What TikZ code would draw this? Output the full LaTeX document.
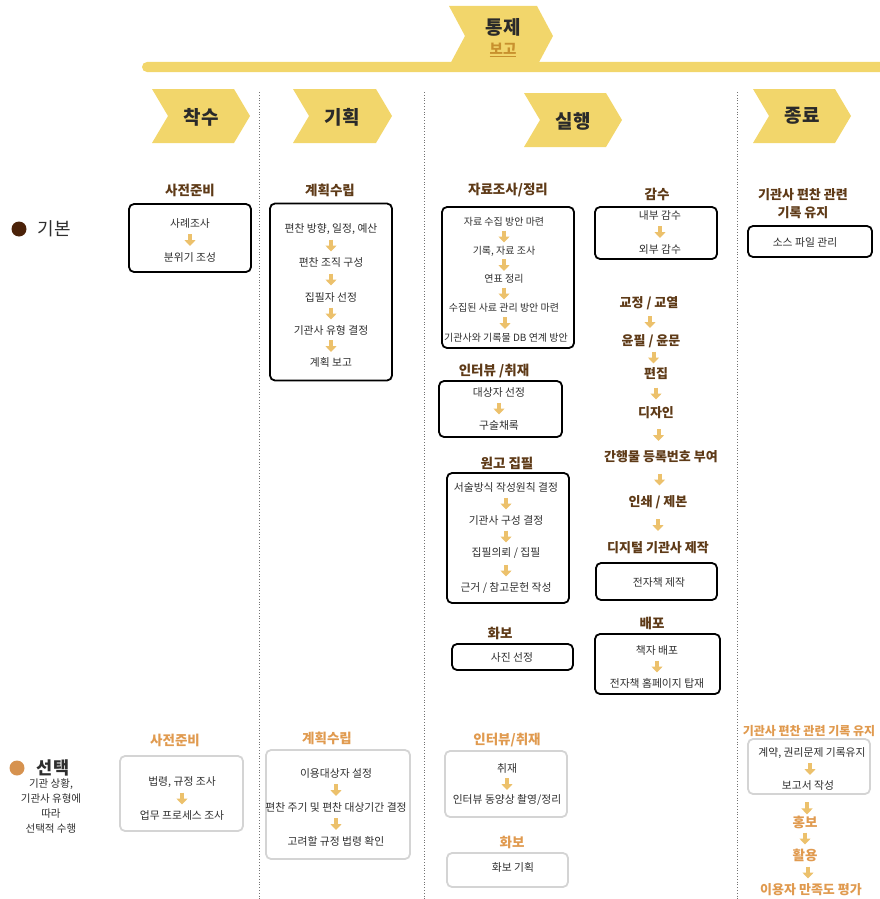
\documentclass[tikz,border=0pt]{standalone}
\usepackage{fontspec}
\setmainfont{Noto Sans CJK KR}
\usetikzlibrary{calc,arrows.meta}
\definecolor{chev}{HTML}{F2D66B}
\definecolor{brn}{HTML}{5E3A17}
\definecolor{org}{HTML}{E09A4F}
\definecolor{arr}{HTML}{ECC16C}
\definecolor{obord}{HTML}{D4D4D4}
\definecolor{txt}{HTML}{2E2E2E}
\definecolor{phtxt}{HTML}{2A2A2A}
\definecolor{bogo}{HTML}{C8912E}
\definecolor{basicc}{HTML}{4B2209}
\definecolor{optc}{HTML}{D6924F}
\newcommand\garr[2]{\draw[garr] ($(#1)!0.5!(#2)+(0,-6)$) -- ($(#1)!0.5!(#2)+(0,6)$);}
\newcommand\chev[5]{\fill[chev] (#1,#2) -- ({#3-#5},#2) -- (#3,{(#2+#4)/2}) -- ({#3-#5},#4) -- (#1,#4) -- ({#1+#5},{(#2+#4)/2}) -- cycle;}
\begin{document}
\begin{tikzpicture}[x=1pt,y=-1pt,
 item/.style={font=\fontsize{10.8}{13}\selectfont, text=txt, inner sep=1pt},
 smitem/.style={font=\fontsize{10}{12}\selectfont, text=txt, inner sep=1pt},
 ttl/.style={font=\fontsize{13.5}{16}\selectfont\bfseries, text=brn, inner sep=1pt},
 sttl/.style={font=\fontsize{13}{16}\selectfont\bfseries, text=brn, inner sep=1pt},
 ottl/.style={font=\fontsize{13.5}{16}\selectfont\bfseries, text=org, inner sep=1pt},
 phase/.style={font=\fontsize{19}{22}\selectfont\bfseries, text=phtxt, inner sep=0pt},
 bbox/.style={draw=black, line width=1.8pt, rounded corners=5pt, inner sep=0pt},
 obox/.style={draw=obord, line width=1.8pt, rounded corners=5pt, inner sep=0pt},
 garr/.style={draw=arr, line width=4pt, -{Triangle[width=11pt,length=6pt]}},
 sep/.style={draw=gray!90!black, line width=0.8pt, dotted}]
\useasboundingbox (0,0) rectangle (880,899);
% bar and control chevron
\fill[chev, rounded corners=5pt] (142,62) rectangle (895,72);
\chev{449}{6}{553}{66}{16}
\node[phase] (tongje) at (503,27) {통제};
\node[font=\fontsize{14.5}{16}\selectfont\bfseries, text=bogo, inner sep=0pt] (bogo) at (503,50) {\underline{보고}};
% phase chevrons
\chev{152}{89}{250}{143}{16}
\chev{293}{89}{392}{143}{16}
\chev{524}{93}{622}{147}{16}
\chev{753}{89}{851}{143}{16}
\node[phase] (p1) at (201,117) {착수};
\node[phase] (p2) at (342,117) {기획};
\node[phase] (p3) at (573,121) {실행};
\node[phase] (p4) at (802,116) {종료};
% separators
\draw[sep] (259,92) -- (259,899);
\draw[sep] (424,92) -- (424,899);
\draw[sep] (737,92) -- (737,899);
% legend
\node[circle, fill=basicc, minimum size=15pt, inner sep=0pt] (dotb) at (19,229) {};
\node[font=\fontsize{18}{20}\selectfont, text=txt, inner sep=0pt] (lb) at (54,229) {기본};
\node[circle, fill=optc, minimum size=15pt, inner sep=0pt] (doto) at (17,768) {};
\node[font=\fontsize{17.5}{19}\selectfont\bfseries, text=txt, inner sep=0pt] (lo) at (53,768) {선택};
\node[font=\fontsize{10.5}{15}\selectfont, text=txt, align=center, inner sep=0pt] (lnote) at (51,806) {기관 상황,\\기관사 유형에\\따라\\선택적 수행};
% ===== basic row =====
% col 1
\node[ttl] (t1) at (190,190) {사전준비};
\node[bbox, minimum width=122pt, minimum height=68pt] (b1) at (190,238) {};
\node[item] (b1a) at (190,223) {사례조사};
\node[item] (b1b) at (190,257) {분위기 조성};
\garr{b1a}{b1b}
% col 2
\node[ttl] (t2) at (330,190) {계획수립};
\node[bbox, minimum width=122pt, minimum height=177pt] (b2) at (331,292) {};
\node[item] (b2a) at (331,229) {편찬 방향, 일정, 예산};
\node[item] (b2b) at (331,262) {편찬 조직 구성};
\node[item] (b2c) at (331,297) {집필자 선정};
\node[item] (b2d) at (331,330) {기관사 유형 결정};
\node[item] (b2e) at (331,362) {계획 보고};
\garr{b2a}{b2b}\garr{b2b}{b2c}\garr{b2c}{b2d}\garr{b2d}{b2e}
% col 3a
\node[ttl] (t3) at (508,190) {자료조사/정리};
\node[bbox, minimum width=132pt, minimum height=141pt] (b3) at (508,277.5) {};
\node[smitem] (b3a) at (504,222) {자료 수집 방안 마련};
\node[smitem] (b3b) at (504,251) {기록, 자료 조사};
\node[smitem] (b3c) at (504,279) {연표 정리};
\node[smitem] (b3d) at (504,308) {수집된 사료 관리 방안 마련};
\node[smitem] (b3e) at (506,338) {기관사와 기록물 DB 연계 방안};
\garr{b3a}{b3b}\garr{b3b}{b3c}\garr{b3c}{b3d}\garr{b3d}{b3e}
\node[ttl] (t4) at (494,371) {인터뷰 /취재};
\node[bbox, minimum width=123pt, minimum height=56pt] (b4) at (500.5,409) {};
\node[item] (b4a) at (499,392) {대상자 선정};
\node[item] (b4b) at (499,425) {구술채록};
\garr{b4a}{b4b}
\node[ttl] (t5) at (507,463) {원고 집필};
\node[bbox, minimum width=122pt, minimum height=130pt] (b5) at (508,538) {};
\node[item] (b5a) at (506,487) {서술방식 작성원칙 결정};
\node[item] (b5b) at (506,520) {기관사 구성 결정};
\node[item] (b5c) at (506,553) {집필의뢰 / 집필};
\node[item] (b5d) at (506,588) {근거 / 참고문헌 작성};
\garr{b5a}{b5b}\garr{b5b}{b5c}\garr{b5c}{b5d}
\node[ttl] (t6) at (500,633) {화보};
\node[bbox, minimum width=121pt, minimum height=26pt] (b6) at (512.5,657) {};
\node[item] (b6a) at (512,657) {사진 선정};
% col 3b
\node[ttl] (t7) at (657,194) {감수};
\node[bbox, minimum width=122pt, minimum height=52pt] (b7) at (656,233) {};
\node[item] (b7a) at (660,215) {내부 감수};
\node[item] (b7b) at (660,249) {외부 감수};
\garr{b7a}{b7b}
\node[sttl] (s1) at (649,303) {교정 / 교열};
\node[sttl] (s2) at (651,341) {윤필 / 윤문};
\node[sttl] (s3) at (656,374) {편집};
\node[sttl] (s4) at (656,413) {디자인};
\node[sttl] (s5) at (661,457) {간행물 등록번호 부여};
\node[sttl] (s6) at (658,502) {인쇄 / 제본};
\node[sttl] (s7) at (658,548) {디지털 기관사 제작};
\garr{s1}{s2}\garr{s2}{s3}\garr{s3}{s4}\garr{s4}{s5}\garr{s5}{s6}\garr{s6}{s7}
\node[bbox, minimum width=121pt, minimum height=37pt] (b8) at (656.5,581.5) {};
\node[item] (b8a) at (659,582) {전자책 제작};
\node[ttl] (t8) at (652,623) {배포};
\node[bbox, minimum width=125pt, minimum height=60pt] (b9) at (657.5,664) {};
\node[item] (b9a) at (657,650) {책자 배포};
\node[item] (b9b) at (657,683) {전자책 홈페이지 탑재};
\garr{b9a}{b9b}
% col 4
\node[ttl, align=center, font=\fontsize{13}{18}\selectfont\bfseries] (t9) at (803,204) {기관사 편찬 관련\\기록 유지};
\node[bbox, minimum width=124pt, minimum height=31pt] (b10) at (810,241.5) {};
\node[item] (b10a) at (805,242) {소스 파일 관리};
% ===== optional row =====
\node[ottl] (ot1) at (175,740) {사전준비};
\node[obox, minimum width=123pt, minimum height=75pt] (o1) at (181.5,793.5) {};
\node[item] (o1a) at (182,782) {법령, 규정 조사};
\node[item] (o1b) at (182,815) {업무 프로세스 조사};
\garr{o1a}{o1b}
\node[ottl] (ot2) at (327,738) {계획수립};
\node[obox, minimum width=144pt, minimum height=109pt] (o2) at (338,804.5) {};
\node[item] (o2a) at (336,773) {이용대상자 설정};
\node[item] (o2b) at (336,807) {편찬 주기 및 편찬 대상기간 결정};
\node[item] (o2c) at (336,841) {고려할 규정 법령 확인};
\garr{o2a}{o2b}\garr{o2b}{o2c}
\node[ottl] (ot3) at (507,740) {인터뷰/취재};
\node[obox, minimum width=122pt, minimum height=66pt] (o3) at (506,784) {};
\node[item] (o3a) at (507,768) {취재};
\node[item] (o3b) at (507,800) {인터뷰 동양상 촬영/정리};
\garr{o3a}{o3b}
\node[ottl] (ot4) at (512,842) {화보};
\node[obox, minimum width=121pt, minimum height=34pt] (o4) at (507.5,870) {};
\node[item] (o4a) at (513,867) {화보 기획};
\node[ottl, font=\fontsize{12}{14}\selectfont\bfseries] (ot5) at (809,731) {기관사 편찬 관련 기록 유지};
\node[obox, minimum width=122pt, minimum height=55pt] (o5) at (809,766.5) {};
\node[item] (o5a) at (812,753) {계약, 권리문제 기록유지};
\node[item] (o5b) at (808,785) {보고서 작성};
\garr{o5a}{o5b}
\node[ottl] (oh1) at (805,822) {홍보};
\node[ottl] (oh2) at (805,855) {활용};
\node[ottl, font=\fontsize{13}{16}\selectfont\bfseries] (oh3) at (811,890) {이용자 만족도 평가};
\garr{o5.south}{oh1}\garr{oh1}{oh2}\garr{oh2}{oh3}
\end{tikzpicture}
\end{document}
